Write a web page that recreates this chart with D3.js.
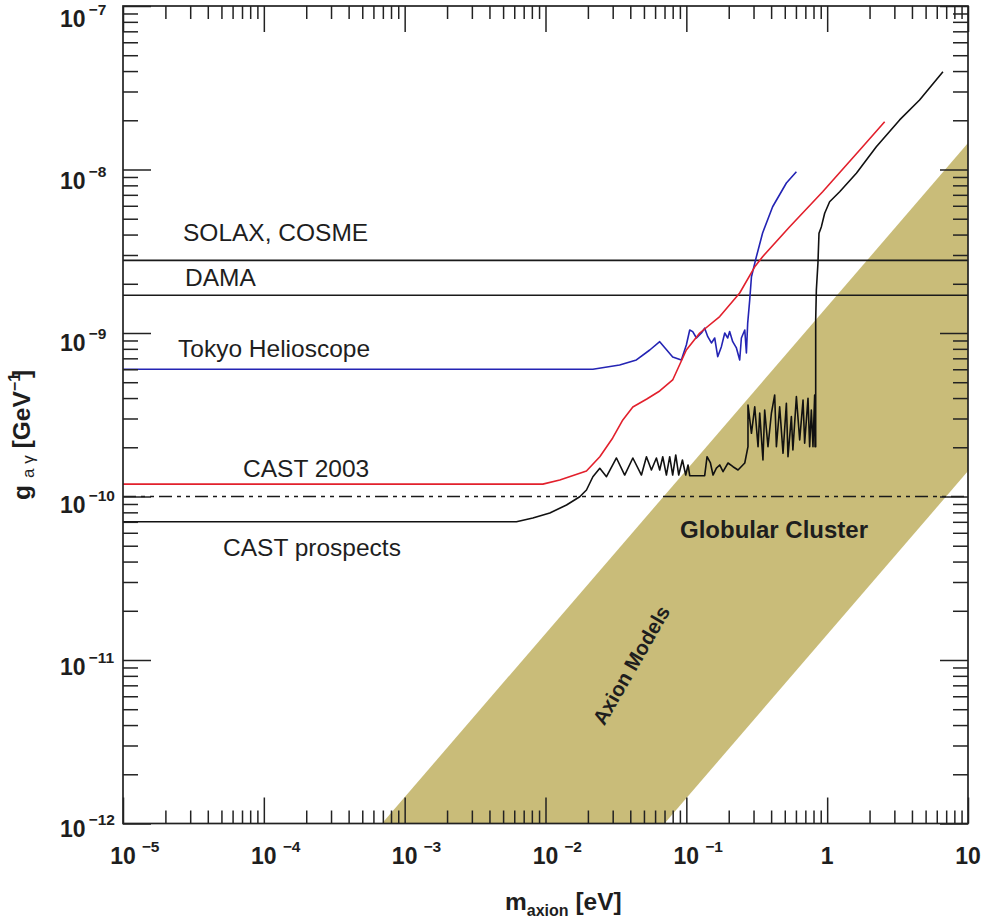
<!DOCTYPE html>
<html>
<head>
<meta charset="utf-8">
<script src="https://cdn.jsdelivr.net/npm/d3@7"></script>
<style>
  body { margin: 0; background: #fff; }
  text { font-family: "Liberation Sans", Arial, sans-serif; }
</style>
</head>
<body>
<svg id="chart" width="985" height="921"></svg>
<script>
// Axis decades and their labels (mantissa, exponent)
const massDecades = [1e-5, 1e-4, 1e-3, 1e-2, 1e-1, 1, 10];
const massLabels = [["10", "−5"], ["10", "−4"], ["10", "−3"], ["10", "−2"], ["10", "−1"], ["1", ""], ["10", ""]];
const couplingDecades = [1e-12, 1e-11, 1e-10, 1e-9, 1e-8, 1e-7];
const couplingLabels = [["10", "−12"], ["10", "−11"], ["10", "−10"], ["10", "−9"], ["10", "−8"], ["10", "−7"]];

// Constant limits [GeV^-1]
const solaxCosmeLimit = 2.78e-9;
const damaLimit = 1.7e-9;
const globularClusterLimit = 1.0e-10;

// Axion model band edges, [m_axion eV, g GeV^-1]
const bandUpperEdge = [[6.9e-4, 1e-12], [10, 1.45e-8]];
const bandLowerEdge = [[0.07, 1e-12], [10, 1.43e-10]];

// Exclusion curves, [m_axion eV, g GeV^-1]
const tokyoHelioscope = [
  [1e-5, 6.0e-10], [2.17e-2, 6.0e-10], [3.36e-2, 6.37e-10], [4.42e-2, 6.84e-10], [5.5e-2, 7.87e-10],
  [6.47e-2, 8.85e-10], [8.0e-2, 7.13e-10], [9.22e-2, 6.84e-10], [0.1, 8.44e-10], [0.1057, 1.043e-9],
  [0.111, 1.02e-9], [0.118, 9.32e-10], [0.128, 1.0e-9], [0.135, 1.07e-9], [0.142, 9.49e-10],
  [0.1507, 8.69e-10], [0.159, 9.32e-10], [0.167, 7.16e-10], [0.1774, 8.25e-10], [0.1874, 1.0e-9],
  [0.1967, 9.32e-10], [0.203, 1.02e-9], [0.2135, 8.85e-10], [0.2268, 8.1e-10], [0.2393, 6.84e-10],
  [0.246, 9.32e-10], [0.26, 1.043e-9], [0.267, 7.54e-10], [0.2727, 1.15e-9], [0.2818, 1.59e-9],
  [0.29, 2.21e-9], [0.3144, 2.93e-9], [0.348, 4.09e-9], [0.41, 5.92e-9], [0.5133, 8.27e-9], [0.6046, 9.69e-9]
];

const cast2003 = [
  [1e-5, 1.19e-10], [9.57e-3, 1.19e-10], [1.263e-2, 1.262e-10], [1.954e-2, 1.432e-10], [2.43e-2, 1.751e-10],
  [3.0e-2, 2.28e-10], [3.54e-2, 2.94e-10], [4.17e-2, 3.53e-10], [5.24e-2, 3.95e-10], [6.47e-2, 4.42e-10],
  [8.0e-2, 5.16e-10], [0.1, 7.87e-10], [0.1245, 1.0e-9], [0.1726, 1.26e-9], [0.2393, 1.757e-9],
  [0.306, 2.54e-9], [0.348, 2.93e-9], [0.542, 4.47e-9], [0.929, 7.31e-9], [1.786, 1.378e-8], [2.56, 1.96e-8]
];

const castProspects = [
  [1e-5, 7.01e-11], [6.22e-3, 7.01e-11], [8.13e-3, 7.39e-11], [1.073e-2, 7.93e-11], [1.41e-2, 8.87e-11],
  [1.75e-2, 9.97e-11], [1.954e-2, 1.096e-10], [2.17e-2, 1.321e-10], [2.43e-2, 1.488e-10], [2.71e-2, 1.321e-10],
  [3.19e-2, 1.72e-10], [3.65e-2, 1.353e-10], [4.17e-2, 1.72e-10], [4.8e-2, 1.353e-10], [5.21e-2, 1.751e-10],
  [5.65e-2, 1.452e-10], [6.13e-2, 1.72e-10], [6.47e-2, 1.452e-10], [6.8e-2, 1.751e-10], [7.22e-2, 1.353e-10],
  [7.62e-2, 1.751e-10], [8.0e-2, 1.353e-10], [8.41e-2, 1.795e-10], [8.83e-2, 1.353e-10], [9.38e-2, 1.672e-10],
  [9.9e-2, 1.353e-10], [0.1028, 1.559e-10], [0.1057, 1.34e-10], [0.135, 1.34e-10], [0.1403, 1.751e-10],
  [0.1483, 1.603e-10], [0.1547, 1.353e-10], [0.1635, 1.49e-10], [0.1726, 1.559e-10], [0.1822, 1.418e-10],
  [0.1977, 1.603e-10], [0.2145, 1.521e-10], [0.2328, 1.452e-10], [0.26, 1.603e-10], [0.274, 2.016e-10],
  [0.274, 3.63e-10], [0.29, 2.435e-10], [0.306, 3.54e-10], [0.323, 2.016e-10], [0.332, 3.24e-10],
  [0.35, 1.672e-10], [0.36, 3.38e-10], [0.38, 2.016e-10], [0.402, 3.24e-10], [0.424, 4.18e-10],
  [0.436, 2.016e-10], [0.46, 3.54e-10], [0.486, 1.837e-10], [0.5133, 3.72e-10], [0.527, 1.751e-10],
  [0.557, 3.08e-10], [0.571, 1.925e-10], [0.6046, 4.08e-10], [0.638, 2.216e-10], [0.674, 3.89e-10],
  [0.692, 2.115e-10], [0.731, 3.99e-10], [0.751, 2.016e-10], [0.772, 3.38e-10], [0.793, 2.016e-10],
  [0.815, 4.18e-10], [0.82, 2.016e-10], [0.829, 2.016e-10], [0.829, 1.2e-9], [0.838, 1.832e-9],
  [0.86, 2.67e-9], [0.875, 4.07e-9], [0.91, 4.47e-9], [0.96, 5.4e-9], [1.041, 6.35e-9], [1.227, 7.31e-9],
  [1.612, 9.48e-9], [2.234, 1.378e-8], [3.27, 2.01e-8], [4.53, 2.66e-8], [6.64, 3.96e-8]
];

const svg = d3.select("#chart");
const plotLeft = 123, plotRight = 968, plotTop = 6, plotBottom = 823.5;

const x = d3.scaleLog().domain([1e-5, 10]).range([plotLeft, plotRight]);
const y = d3.scaleLog().domain([1e-12, 1e-7]).range([plotBottom, plotTop]);

const minorOf = decades => decades.slice(0, -1).flatMap(d => d3.range(2, 10).map(k => k * d));
const massMinor = minorOf(massDecades);
const couplingMinor = minorOf(couplingDecades);

svg.append("clipPath").attr("id", "plotArea")
  .append("rect").attr("x", plotLeft).attr("y", plotTop)
  .attr("width", plotRight - plotLeft).attr("height", plotBottom - plotTop);

const plot = svg.append("g").attr("clip-path", "url(#plotArea)");

// Axion model band
const bandPoly = [...bandUpperEdge, ...bandLowerEdge.slice().reverse()];
plot.append("path")
  .attr("d", d3.line().x(d => x(d[0])).y(d => y(d[1]))(bandPoly) + "Z")
  .attr("fill", "#c9bc79")
  .attr("stroke", "none");

// Horizontal limits
const hline = (g, dash) => plot.append("line")
  .attr("x1", plotLeft).attr("x2", plotRight)
  .attr("y1", y(g)).attr("y2", y(g))
  .attr("stroke", "#1a1a1a").attr("stroke-width", 1.6)
  .attr("stroke-dasharray", dash || null);
hline(solaxCosmeLimit);
hline(damaLimit);
hline(globularClusterLimit, "13 5 4 5 4 5");

const curve = d3.line().x(d => x(d[0])).y(d => y(d[1]));
plot.append("path").datum(tokyoHelioscope).attr("d", curve)
  .attr("fill", "none").attr("stroke", "#2424b4").attr("stroke-width", 1.6).attr("stroke-linejoin", "round");
plot.append("path").datum(cast2003).attr("d", curve)
  .attr("fill", "none").attr("stroke", "#e2202c").attr("stroke-width", 1.6).attr("stroke-linejoin", "round");
plot.append("path").datum(castProspects).attr("d", curve)
  .attr("fill", "none").attr("stroke", "#111").attr("stroke-width", 1.6).attr("stroke-linejoin", "round");

// Annotations
const note = (txt, px, py, weight, size) => svg.append("text")
  .attr("x", px).attr("y", py)
  .attr("font-size", size || 24.5).attr("font-weight", weight || "normal")
  .attr("fill", "#1e1e1e").text(txt);
note("SOLAX, COSME", 183, 241);
note("DAMA", 185, 286);
note("Tokyo Helioscope", 178, 357);
note("CAST 2003", 243, 477);
note("CAST prospects", 223, 556);
note("Globular Cluster", 680, 538, "bold", 24);
svg.append("text")
  .attr("transform", "translate(631,665) rotate(-60)")
  .attr("text-anchor", "middle").attr("dominant-baseline", "central")
  .attr("font-size", 20.5).attr("font-weight", "bold").attr("fill", "#1e1e1e")
  .text("Axion Models");

// Ticks on all four sides, pointing inward
const tickStyle = g => g.call(s => s.select(".domain").remove())
  .call(s => s.selectAll(".tick line").attr("stroke", "#222").attr("stroke-width", 1.5));

const addAxis = (axisFn, scale, values, size, transform) =>
  svg.append("g").attr("transform", transform)
    .call(axisFn(scale).tickValues(values).tickSize(size).tickFormat(""))
    .call(tickStyle);

addAxis(d3.axisBottom, x, massMinor, -13, `translate(0,${plotBottom})`);
addAxis(d3.axisBottom, x, massDecades, -26, `translate(0,${plotBottom})`);
addAxis(d3.axisTop, x, massMinor, -13, `translate(0,${plotTop})`);
addAxis(d3.axisTop, x, massDecades, -26, `translate(0,${plotTop})`);
addAxis(d3.axisLeft, y, couplingMinor, -15, `translate(${plotLeft},0)`);
addAxis(d3.axisLeft, y, couplingDecades, -28, `translate(${plotLeft},0)`);
addAxis(d3.axisRight, y, couplingMinor, -15, `translate(${plotRight},0)`);
addAxis(d3.axisRight, y, couplingDecades, -28, `translate(${plotRight},0)`);

// Frame
svg.append("rect")
  .attr("x", plotLeft).attr("y", plotTop)
  .attr("width", plotRight - plotLeft).attr("height", plotBottom - plotTop)
  .attr("fill", "none").attr("stroke", "#222").attr("stroke-width", 1.7);

// Mass tick labels
massDecades.forEach((d, i) => {
  const [mant, exp] = massLabels[i];
  const t = svg.append("text").attr("x", x(d)).attr("y", plotBottom + 40)
    .attr("font-size", 23).attr("font-weight", "bold").attr("fill", "#1e1e1e")
    .attr("text-anchor", "middle").text(mant);
  if (exp) {
    const w = t.node().getComputedTextLength();
    svg.append("text").attr("x", x(d) + w / 2 + 6).attr("y", plotBottom + 28)
      .attr("font-size", 15.5).attr("font-weight", "bold").attr("fill", "#1e1e1e").text(exp);
  }
});

// Coupling tick labels: sit just below their tick, a little tighter toward the bottom
couplingDecades.forEach((d, i) => {
  const [mant, exp] = couplingLabels[i];
  const base = y(d) + 21 - 7.5 * (y(d) - plotTop) / (plotBottom - plotTop);
  const t = svg.append("text").attr("x", 60).attr("y", base)
    .attr("font-size", 23).attr("font-weight", "bold").attr("fill", "#1e1e1e").text(mant);
  const w = t.node().getComputedTextLength();
  svg.append("text").attr("x", 60 + w + 3).attr("y", base - 12)
    .attr("font-size", 15.5).attr("font-weight", "bold").attr("fill", "#1e1e1e").text(exp);
});

// Axis titles
const xt = svg.append("text").attr("x", 505).attr("y", 910)
  .attr("font-size", 24.5).attr("font-weight", "bold").attr("fill", "#1e1e1e");
xt.append("tspan").text("m");
xt.append("tspan").attr("font-size", 16).attr("dy", 6).text("axion");
xt.append("tspan").attr("dy", -6).text(" [eV]");

const yt = svg.append("text").attr("transform", "translate(30,500) rotate(-90)")
  .attr("font-size", 24.5).attr("font-weight", "bold").attr("fill", "#1e1e1e");
yt.append("tspan").text("g");
yt.append("tspan").attr("font-size", 17).attr("font-weight", "normal").attr("dx", 7).attr("dy", 4).text("a \u03B3");
yt.append("tspan").attr("dx", 7).attr("dy", -4).text("[GeV");
yt.append("tspan").attr("font-size", 16).attr("dy", -10).text("−1");
yt.append("tspan").attr("dx", -5).attr("dy", 10).text("]");
</script>
</body>
</html>
